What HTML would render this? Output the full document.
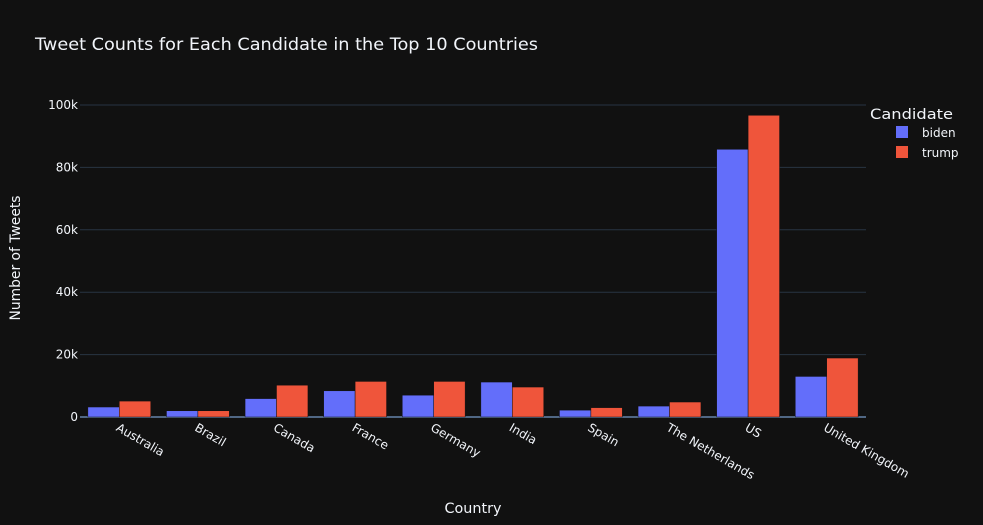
<!DOCTYPE html>
<html><head><meta charset="utf-8"><style>
html,body{margin:0;padding:0;background:#111111;}
svg{display:block;font-family:"DejaVu Sans","Liberation Sans",sans-serif;}
</style></head><body>
<svg id="chart" width="983" height="525">
<rect width="983" height="525" fill="#111111"/>
<text x="35" y="50" fill="#f2f5fa" font-size="17" textLength="503" lengthAdjust="spacingAndGlyphs">Tweet Counts for Each Candidate in the Top 10 Countries</text>
<text transform="translate(20,258) rotate(-90)" text-anchor="middle" fill="#f2f5fa" font-size="14" textLength="125" lengthAdjust="spacingAndGlyphs">Number of Tweets</text>
<text x="473" y="513" text-anchor="middle" fill="#f2f5fa" font-size="14" textLength="57" lengthAdjust="spacingAndGlyphs">Country</text>
<g id="grid"></g><g id="bars"></g><g id="xt"></g>
<g>
<text x="870" y="119" fill="#f2f5fa" font-size="14" textLength="83" lengthAdjust="spacingAndGlyphs">Candidate</text>
<g><rect x="896" y="126" width="12" height="12" fill="#636efa"/><text x="922" y="137" fill="#f2f5fa" font-size="12">biden</text></g>
<g><rect x="896" y="146" width="12" height="12" fill="#ef553b"/><text x="922" y="157" fill="#f2f5fa" font-size="12">trump</text></g>
</g>
</svg>
<script>
const categories=["Australia","Brazil","Canada","France","Germany","India","Spain","The Netherlands","US","United Kingdom"];
const biden=[3200,2000,5900,8400,7000,11200,2200,3500,85800,13000];
const trump=[5100,2000,10200,11400,11400,9600,3000,4800,96700,18900];
const yTicks=[0,20000,40000,60000,80000,100000];
const yTickLabels=["0","20k","40k","60k","80k","100k"];
const ns="http://www.w3.org/2000/svg";
const x0=80,x1=866,yZero=417,yTop=105,yMax=100000;
const y=v=>yZero-(v/yMax)*(yZero-yTop);
const bw=(x1-x0)/categories.length;
function mk(t,a,p){const e=document.createElementNS(ns,t);for(const k in a)e.setAttribute(k,a[k]);p.appendChild(e);return e;}
const grid=document.getElementById('grid');
yTicks.forEach((t,i)=>{
 const l=mk('line',{x1:x0,x2:x1,y1:y(t),y2:y(t),stroke:t===0?'#506784':'#283442','stroke-width':t===0?2:1},grid);
 
 
 const tx=mk('text',{x:x0-2,y:y(t)+4,'text-anchor':'end',fill:'#f2f5fa','font-size':12},grid);
 tx.textContent=yTickLabels[i];
 
 
});
const bars=document.getElementById('bars'),xt=document.getElementById('xt');
const inner=bw*0.8,half=inner/2;
categories.forEach((c,i)=>{
 const left=x0+i*bw+bw*0.1;
 [[biden,'#636efa','biden'],[trump,'#ef553b','trump']].forEach(([arr,col,nm],j)=>{
  const r=mk('rect',{x:left+j*half,y:y(arr[i]),width:half,height:yZero-y(arr[i]),fill:col,stroke:'#111111','stroke-width':0.5},bars);
  
  
 });
 const cx=x0+i*bw+bw/2;
 const t=mk('text',{transform:`translate(${cx-4},${yZero+13}) rotate(30)`,fill:'#f2f5fa','font-size':12},xt);
 t.textContent=c;
 
 
});
</script>
</body></html>
